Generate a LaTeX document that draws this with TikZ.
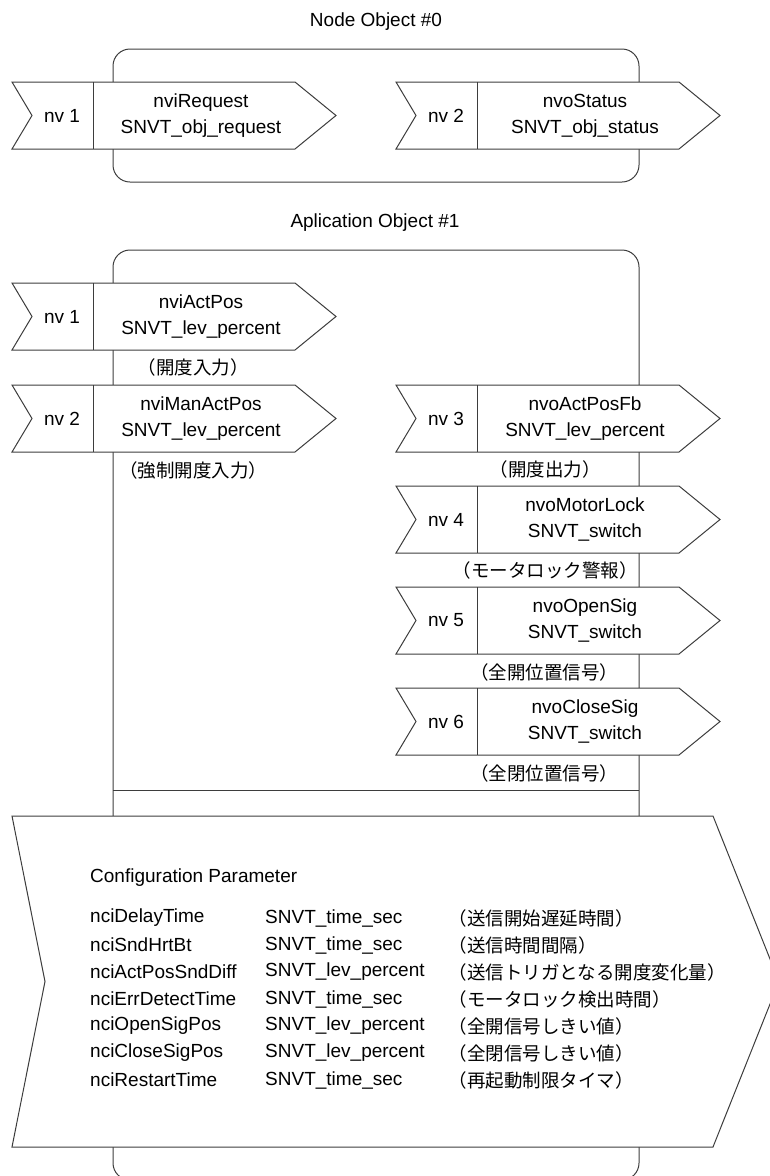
\documentclass[tikz,border=0pt]{standalone}
\usepackage{fontspec}
\setmainfont{Liberation Sans}
\newfontfamily\jpfont[RawFeature=+halt]{Noto Sans CJK JP}
\usetikzlibrary{positioning}
\definecolor{linegray}{rgb}{0.24,0.24,0.24}
\tikzstyle{objbox} = [draw=linegray, line width=1pt, rounded corners=17pt]
\tikzstyle{nvshape} = [draw=linegray, line width=1pt, fill=white]
\tikzstyle{lbl} = [font=\fontsize{19}{26}\selectfont, align=center, inner sep=0pt]
\tikzstyle{jlbl} = [font=\jpfont\fontsize{18.5}{22}\selectfont, inner sep=0pt]
\tikzstyle{cfg} = [font=\fontsize{19}{22}\selectfont, anchor=west, inner sep=0pt]
\tikzstyle{jcfg} = [font=\jpfont\fontsize{18.5}{22}\selectfont, anchor=west, inner sep=0pt]
% one network variable: name, x, y (top left), number, variable, type
\newcommand{\nvarrow}[6]{%
\begin{scope}[shift={(#2,#3)}]
\draw[nvshape] (0,0) -- (283,0) -- (324,33.5) -- (283,67) -- (0,67) -- (20,33.5) -- cycle;
\draw[nvshape] (81,0) -- (81,67);
\node[lbl] (#1num) at (50,33.5) {nv #4};
\node[lbl] (#1var) at (189,33.5) {#5\\#6};
\end{scope}}

\begin{document}
\begin{tikzpicture}[x=1pt, y=-1pt]
\useasboundingbox (0,0) rectangle (769,1176);
% Node Object
\node[lbl] (title0) at (376,22) {Node Object \#0};
\draw[objbox] (113,49) rectangle (639,182);
\nvarrow{req}{12}{82}{1}{nviRequest}{SNVT\_obj\_request}
\nvarrow{stat}{396}{82}{2}{nvoStatus}{SNVT\_obj\_status}
% Aplication Object
\node[lbl] (title1) at (375,223) {Aplication Object \#1};
\draw[objbox] (113,250) rectangle (639,1180);
\draw[nvshape] (113,790) -- (639,790);
\nvarrow{act}{12}{283}{1}{nviActPos}{SNVT\_lev\_percent}
\node[jlbl] (actj) at (193,367) {（開度入力）};
\nvarrow{man}{12}{385}{2}{nviManActPos}{SNVT\_lev\_percent}
\node[jlbl] (manj) at (193,470) {（強制開度入力）};
\nvarrow{fb}{396}{385}{3}{nvoActPosFb}{SNVT\_lev\_percent}
\node[jlbl] (fbj) at (545,469) {（開度出力）};
\nvarrow{lock}{396}{486}{4}{nvoMotorLock}{SNVT\_switch}
\node[jlbl] (lockj) at (545,570) {（モータロック警報）};
\nvarrow{open}{396}{587}{5}{nvoOpenSig}{SNVT\_switch}
\node[jlbl] (openj) at (544,672) {（全開位置信号）};
\nvarrow{close}{396}{688}{6}{nvoCloseSig}{SNVT\_switch}
\node[jlbl] (closej) at (544,773) {（全閉位置信号）};
% Configuration Parameter
\draw[nvshape] (12,816) -- (713,816) -- (779,981.5) -- (713,1147) -- (12,1147) -- (45,981.5) -- cycle;
\node[cfg] (cfgt) at (90,878) {Configuration Parameter};
\node[cfg] (c1a) at (90,918) {nciDelayTime};
\node[cfg] (c1b) at (265,918) {SNVT\_time\_sec};
\node[jcfg] (c1c) at (458,918) {（送信開始遅延時間）};
\node[cfg] (c2a) at (90,945) {nciSndHrtBt};
\node[cfg] (c2b) at (265,945) {SNVT\_time\_sec};
\node[jcfg] (c2c) at (458,945) {（送信時間間隔）};
\node[cfg] (c3a) at (90,972) {nciActPosSndDiff};
\node[cfg] (c3b) at (265,972) {SNVT\_lev\_percent};
\node[jcfg] (c3c) at (458,972) {（送信トリガとなる開度変化量）};
\node[cfg] (c4a) at (90,999) {nciErrDetectTime};
\node[cfg] (c4b) at (265,999) {SNVT\_time\_sec};
\node[jcfg] (c4c) at (458,999) {（モータロック検出時間）};
\node[cfg] (c5a) at (90,1026) {nciOpenSigPos};
\node[cfg] (c5b) at (265,1026) {SNVT\_lev\_percent};
\node[jcfg] (c5c) at (458,1026) {（全開信号しきい値）};
\node[cfg] (c6a) at (90,1053) {nciCloseSigPos};
\node[cfg] (c6b) at (265,1053) {SNVT\_lev\_percent};
\node[jcfg] (c6c) at (458,1053) {（全閉信号しきい値）};
\node[cfg] (c7a) at (90,1080) {nciRestartTime};
\node[cfg] (c7b) at (265,1080) {SNVT\_time\_sec};
\node[jcfg] (c7c) at (458,1080) {（再起動制限タイマ）};
\end{tikzpicture}
\end{document}
